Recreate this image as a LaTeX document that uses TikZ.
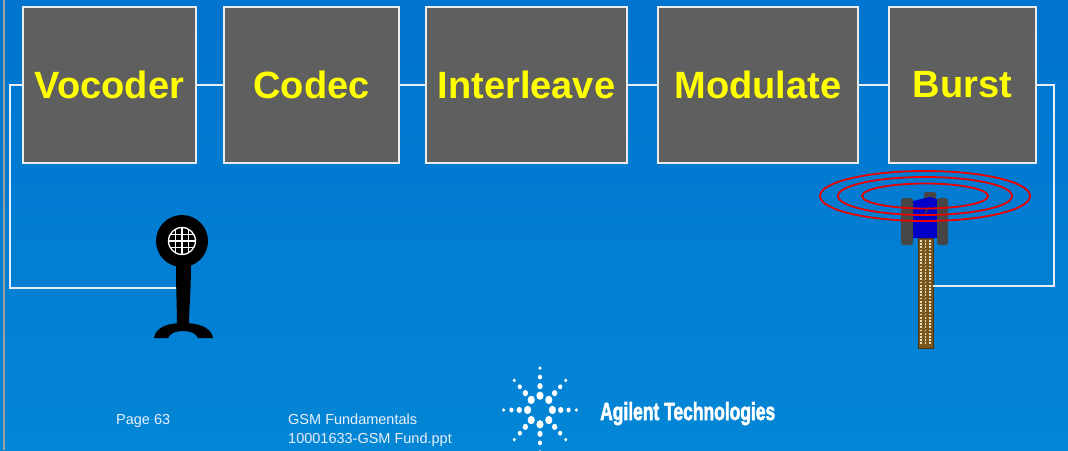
\documentclass[tikz,border=0pt]{standalone}
\usepackage{fontspec}
\setmainfont{Liberation Sans}
\newfontfamily\brandfont[FakeBold=2.5]{Liberation Sans Bold}
\usepackage{graphicx}
\definecolor{bgtop}{RGB}{0,116,206}
\definecolor{bgbot}{RGB}{3,134,214}
\definecolor{boxfill}{RGB}{95,95,95}
\definecolor{boxline}{RGB}{236,236,236}
\definecolor{label}{RGB}{255,255,0}
\definecolor{wirec}{RGB}{230,238,246}
\definecolor{foottext}{RGB}{232,240,250}
\definecolor{polebrown}{RGB}{120,86,30}
\definecolor{poledark}{RGB}{80,52,10}
\definecolor{poledot}{RGB}{236,222,186}
\definecolor{antblue}{RGB}{0,0,200}
\definecolor{padgray}{RGB}{70,70,70}
\definecolor{ringred}{RGB}{235,0,0}
\begin{document}
\begin{tikzpicture}[x=1pt,y=-1pt,
  blockbox/.style={draw=boxline, fill=boxfill, line width=1.5pt,
    minimum height=156pt, inner sep=0pt, text=label,
    font=\fontsize{38}{40}\selectfont\bfseries},
  wire/.style={draw=wirec, line width=1.5pt},
  foot/.style={inner sep=0pt, text=foottext, font=\fontsize{14.5}{17}\selectfont},
  ring/.style={draw=ringred, line width=1.8pt}]
\useasboundingbox (0,0) rectangle (1068,450);
% background
\shade[top color=bgtop, bottom color=bgbot] (0,0) rectangle (1068,450);
\draw[gray!75, line width=1.5pt] (4,0) -- (4,450);

% processing chain
\node[blockbox, minimum width=173pt] (voc) at (109.5,85) {Vocoder};
\node[blockbox, minimum width=175pt] (cod) at (311.5,85) {Codec};
\node[blockbox, minimum width=201pt] (int) at (526.5,85) {Interleave};
\node[blockbox, minimum width=200pt] (mod) at (758,85) {Modulate};
\node[blockbox, minimum width=147pt] (bur) at (962.5,85) {Burst};

\draw[wire] (voc.east) -- (cod.west);
\draw[wire] (cod.east) -- (int.west);
\draw[wire] (int.east) -- (mod.west);
\draw[wire] (mod.east) -- (bur.west);

% microphone
\coordinate (micjoin) at (176,288);
\fill[black] (182,241) circle[radius=26pt];
\fill[black] (176,262) .. controls (176,290) and (177,310) .. (177,326)
  -- (189,326) .. controls (189,310) and (191,290) .. (191,262) -- cycle;
\fill[black] (154,338) .. controls (156,326) and (170,323) .. (183,323)
  .. controls (196,323) and (211,326) .. (213,338) -- (198,338)
  .. controls (196,333) and (190,331) .. (183,331)
  .. controls (176,331) and (170,333) .. (168,338) -- cycle;
\begin{scope}
  \clip (182,241) circle[radius=14pt];
  \foreach \d in {-6.5,0,6.5} {
    \draw[white, line width=1.2pt] (182+\d,226) -- (182+\d,256);
    \draw[white, line width=1.2pt] (167,241+\d) -- (197,241+\d);
  }
\end{scope}
\draw[white, line width=1.3pt] (182,241) circle[radius=13.5pt];

% antenna
\coordinate (antjoin) at (933,286);
\fill[polebrown, draw=poledark, line width=0.8pt] (918,238) rectangle (933,348);
\foreach \yy in {240,243.2,...,345} {
  \foreach \xx in {920,924.5,929} {
    \fill[poledot] (\xx,\yy) rectangle +(1.7,1.7);
  }
}
\fill[padgray, rounded corners=2pt] (924,192) rectangle (936,202);
\fill[antblue] (913,201) -- (930,197) -- (937,199) -- (937,238) -- (913,238) -- cycle;
\draw[padgray, line width=1.2pt] (925,213) -- (929,207);
\fill[padgray, rounded corners=2.5pt] (901,198) rectangle (913,245);
\fill[padgray, rounded corners=2.5pt] (937,198) rectangle (948,245);
\draw[ring] (925,196) ellipse[x radius=105pt, y radius=25pt];
\draw[ring] (925,196) ellipse[x radius=87pt, y radius=19pt];
\draw[ring] (925,196) ellipse[x radius=63pt, y radius=12.5pt];

% feedback loops
\draw[wire] (voc.west) -- (10,85) -- (10,288) -- (micjoin);
\draw[wire] (bur.east) -- (1054,85) -- (1054,286) -- (antjoin);

% footer
\node[foot, anchor=base west] (page) at (116,424) {Page 63};
\node[foot, anchor=base west] (title) at (288,424) {GSM Fundamentals};
\node[foot, anchor=base west] (file) at (288,443) {10001633-GSM Fund.ppt};

% brand mark
\begin{scope}[shift={(540,410)}, xscale=0.92, yscale=1.06]
  \foreach \a in {0,45,...,315} {
    \foreach \r/\s in {13.5/3.9,22.5/2.9,31/2.3,39.5/1.8} {
      \fill[white] (\a:\r) circle[radius=\s pt];
    }
  }
\end{scope}
\node[anchor=base west, inner sep=0pt, text=white] (brand) at (600,420)
  {\resizebox{175pt}{18pt}{\brandfont Agilent Technologies}};
\end{tikzpicture}
\end{document}
